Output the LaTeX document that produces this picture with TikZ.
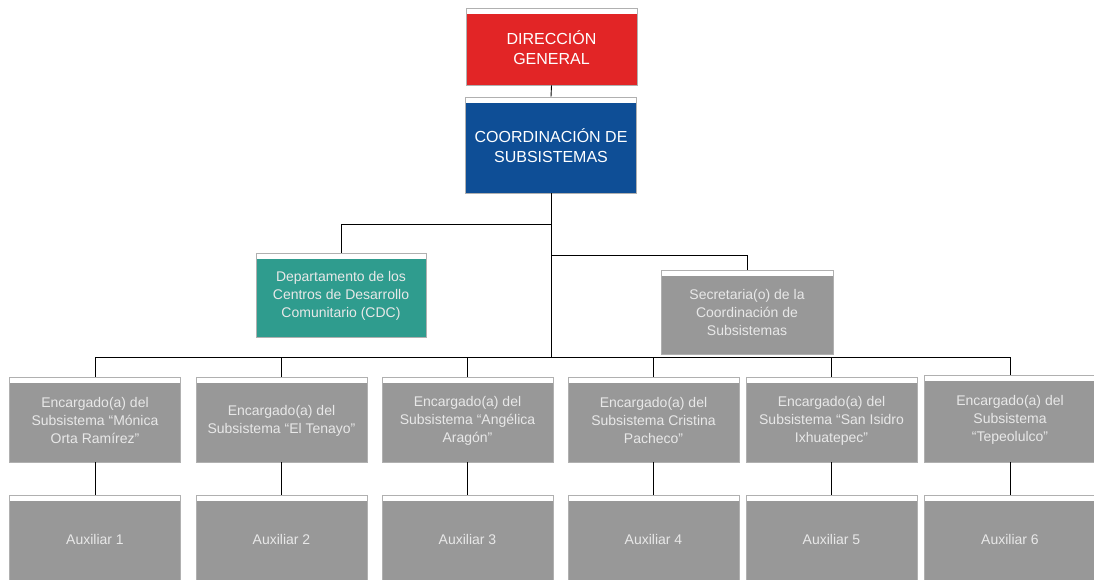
\documentclass[tikz,border=0pt]{standalone}
\usepackage{fontspec}
\setmainfont{Liberation Sans}
\definecolor{dirred}{HTML}{E22526}
\definecolor{coordblue}{HTML}{0E4E96}
\definecolor{cdcteal}{HTML}{2F9C8E}
\definecolor{boxgray}{HTML}{989898}
\definecolor{edgegray}{HTML}{B0B0B0}
\definecolor{lighttext}{HTML}{E8E8E8}
\tikzset{
  orgbox/.style={draw=edgegray, line width=0.8pt, minimum width=171pt, inner sep=0pt,
    align=center, font=\fontsize{14}{18}\selectfont, text=lighttext,
    path picture={\fill[white] (path picture bounding box.north west) rectangle
      ([yshift=-6pt]path picture bounding box.north east);}},
  bigtext/.style={font=\fontsize{16}{20}\selectfont, text=white},
  link/.style={draw=black, line width=0.9pt}
}
\begin{document}
\begin{tikzpicture}[x=1pt,y=-1pt]
\useasboundingbox (0,0) rectangle (1094,579);
% top of the chart
\node[orgbox, bigtext, fill=dirred, minimum height=77pt] (dir) at (551.5,46.5) {\\[-4pt]DIRECCIÓN\\GENERAL};
\node[orgbox, bigtext, fill=coordblue, minimum height=96pt] (coord) at (551,145) {\\[-4pt]COORDINACIÓN DE\\SUBSISTEMAS};
% second level
\node[orgbox, fill=cdcteal, minimum width=170pt, minimum height=84pt] (cdc) at (341,295) {\\[-6pt]Departamento de los\\Centros de Desarrollo\\Comunitario (CDC)};
\node[orgbox, fill=boxgray, minimum width=172pt, minimum height=84pt] (sec) at (747,312) {\\[-6pt]Secretaria(o) de la\\Coordinación de\\Subsistemas};
% subsystem heads
\node[orgbox, fill=boxgray, minimum height=85pt] (e1) at (95,419.5) {\\[-6pt]Encargado(a) del\\Subsistema “Mónica\\Orta Ramírez”};
\node[orgbox, fill=boxgray, minimum height=85pt] (e2) at (281.5,419.5) {\\[-6pt]Encargado(a) del\\Subsistema “El Tenayo”};
\node[orgbox, fill=boxgray, minimum height=85pt] (e3) at (467.5,419.5) {\\[-6pt]Encargado(a) del\\Subsistema “Angélica\\Aragón”};
\node[orgbox, fill=boxgray, minimum height=85pt] (e4) at (653.5,419.5) {\\[-6pt]Encargado(a) del\\Subsistema Cristina\\Pacheco”};
\node[orgbox, fill=boxgray, minimum height=85pt] (e5) at (831.5,419.5) {\\[-6pt]Encargado(a) del\\Subsistema “San Isidro\\Ixhuatepec”};
\node[orgbox, fill=boxgray, minimum width=172pt, minimum height=87pt] (e6) at (1010,418.5) {\\[-6pt]Encargado(a) del\\Subsistema\\“Tepeolulco”};
% assistants
\node[orgbox, fill=boxgray, minimum height=88pt] (a1) at (95,539) {Auxiliar 1};
\node[orgbox, fill=boxgray, minimum height=88pt] (a2) at (281.5,539) {Auxiliar 2};
\node[orgbox, fill=boxgray, minimum height=88pt] (a3) at (467.5,539) {Auxiliar 3};
\node[orgbox, fill=boxgray, minimum height=88pt] (a4) at (653.5,539) {Auxiliar 4};
\node[orgbox, fill=boxgray, minimum height=88pt] (a5) at (831.5,539) {Auxiliar 5};
\node[orgbox, fill=boxgray, minimum width=172pt, minimum height=88pt] (a6) at (1010,539) {Auxiliar 6};
% junction points of the connectors
\coordinate (jcdc) at (551,224);
\coordinate (jsec) at (551,255);
\coordinate (bus) at (551,357);
% connectors
\draw[link] (dir.south) -- (coord.north);
\draw[link] (coord.south) -- (bus);
\draw[link] (jcdc) -| (cdc.north);
\draw[link] (jsec) -| (sec.north);
\draw[link] (e1.north) -- (e1.north |- bus) -- (e6.north |- bus) -- (e6.north);
\foreach \i in {2,3,4,5}{\draw[link] (e\i.north) -- (e\i.north |- bus);}
\foreach \i in {1,...,6}{\draw[link] (e\i.south) -- (a\i.north);}
\end{tikzpicture}
\end{document}
